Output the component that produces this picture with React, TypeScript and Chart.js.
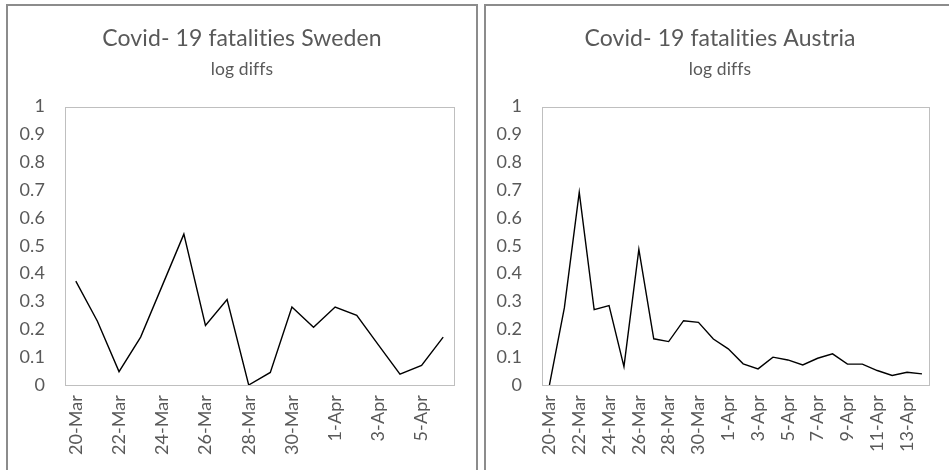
import React, { useEffect, useRef } from "react";
import { Chart, registerables } from "chart.js";

Chart.register(...registerables);

const swedenDates = [
  "20-Mar", "21-Mar", "22-Mar", "23-Mar", "24-Mar", "25-Mar", "26-Mar", "27-Mar", "28-Mar",
  "29-Mar", "30-Mar", "31-Mar", "1-Apr", "2-Apr", "3-Apr", "4-Apr", "5-Apr", "6-Apr",
];
const swedenLogDiffs = [
  0.373, 0.229, 0.048, 0.172, 0.357, 0.542, 0.214, 0.307, 0, 0.045, 0.28, 0.207, 0.28, 0.25,
  0.144, 0.039, 0.07, 0.172,
];

const austriaDates = [
  "20-Mar", "21-Mar", "22-Mar", "23-Mar", "24-Mar", "25-Mar", "26-Mar", "27-Mar", "28-Mar",
  "29-Mar", "30-Mar", "31-Mar", "1-Apr", "2-Apr", "3-Apr", "4-Apr", "5-Apr", "6-Apr", "7-Apr",
  "8-Apr", "9-Apr", "10-Apr", "11-Apr", "12-Apr", "13-Apr", "14-Apr",
];
const austriaLogDiffs = [
  0, 0.277, 0.692, 0.271, 0.285, 0.066, 0.487, 0.166, 0.156, 0.231, 0.225, 0.165, 0.13, 0.076,
  0.058, 0.1, 0.09, 0.072, 0.096, 0.112, 0.075, 0.075, 0.052, 0.034, 0.046, 0.04,
];

const yTickValues = [0, 0.1, 0.2, 0.3, 0.4, 0.5, 0.6, 0.7, 0.8, 0.9, 1];
const subtitleText = "log diffs";

const FONT = "Lato, Carlito, Calibri, 'Open Sans', sans-serif";
const TEXT_COLOR = "#595959";
const CANVAS_W = 468;
const CANVAS_H = 464;

const noLigatures = {
  id: "noLigatures",
  beforeUpdate(chart: any) {
    chart.ctx.letterSpacing = "0.1px";
  },
  beforeDraw(chart: any) {
    chart.ctx.letterSpacing = "0.1px";
  },
};

const plotBorder = {
  id: "plotBorder",
  beforeDatasetsDraw(chart: any) {
    const { ctx, chartArea } = chart;
    ctx.save();
    ctx.strokeStyle = "#bfbfbf";
    ctx.lineWidth = 1;
    ctx.strokeRect(
      Math.round(chartArea.left) + 0.5,
      Math.round(chartArea.top) + 0.5,
      Math.round(chartArea.right - chartArea.left),
      Math.round(chartArea.bottom - chartArea.top)
    );
    ctx.restore();
  },
};

function LineChart(props: {
  labels: string[];
  values: number[];
  title: string;
  yWidth: number;
  rightPad: number;
}) {
  const ref = useRef<HTMLCanvasElement | null>(null);
  useEffect(() => {
    if (!ref.current) return;
    const { labels, values, title, yWidth, rightPad } = props;
    const chart = new Chart(ref.current, {
      type: "line",
      data: {
        labels,
        datasets: [
          {
            data: values,
            borderColor: "#000000",
            borderWidth: 1.4,
            pointRadius: 0,
            tension: 0,
            fill: false,
          },
        ],
      },
      options: {
        animation: false,
        responsive: false,
        devicePixelRatio: 1,
        layout: { padding: 0 },
        plugins: {
          legend: { display: false },
          tooltip: { enabled: false },
          title: {
            display: true,
            text: title,
            color: TEXT_COLOR,
            font: { family: FONT, size: 23, weight: "normal", lineHeight: 1.2 },
            padding: { top: 19, bottom: 6 },
          },
          subtitle: {
            display: true,
            text: subtitleText,
            color: TEXT_COLOR,
            font: { family: FONT, size: 17.5, weight: "normal", lineHeight: 1.2 },
            padding: { top: 0, bottom: 27 },
          },
        },
        scales: {
          x: {
            type: "category",
            offset: true,
            grid: { display: false, drawTicks: false },
            border: { display: false },
            ticks: {
              autoSkip: false,
              maxRotation: 90,
              minRotation: 90,
              padding: 10,
              color: TEXT_COLOR,
              font: { family: FONT, size: 18 },
              callback: (_v: any, i: number) => (i % 2 === 0 ? labels[i] : ""),
            },
            afterFit: (scale: any) => {
              scale.height = 85;
            },
          },
          y: {
            min: 0,
            max: 1,
            grid: { display: false, drawTicks: false },
            border: { display: false },
            afterBuildTicks: (scale: any) => {
              scale.ticks = yTickValues.map((v) => ({ value: v }));
            },
            ticks: {
              padding: 20,
              color: TEXT_COLOR,
              font: { family: FONT, size: 18 },
              callback: (v: any) => String(Number(Number(v).toFixed(1))),
            },
            afterFit: (scale: any) => {
              scale.width = yWidth;
            },
          },
          yRightGap: {
            type: "linear",
            position: "right",
            display: true,
            min: 0,
            max: 1,
            grid: { display: false, drawTicks: false },
            border: { display: false },
            ticks: { display: false },
            afterFit: (scale: any) => {
              scale.width = rightPad;
            },
          },
        },
      },
      plugins: [noLigatures, plotBorder],
    } as any);
    return () => chart.destroy();
  }, []);
  return (
    <canvas
      ref={ref}
      width={CANVAS_W}
      height={CANVAS_H}
      style={{ display: "block", width: CANVAS_W, height: CANVAS_H }}
    />
  );
}

const boxStyle = (left: number): React.CSSProperties => ({
  position: "absolute",
  left,
  top: 4,
  width: 472,
  height: 480,
  boxSizing: "border-box",
  border: "2px solid #8c8c8c",
  background: "#ffffff",
});

export default function App() {
  useEffect(() => {
    document.documentElement.style.overflow = "hidden";
    document.body.style.overflow = "hidden";
  }, []);
  return (
    <div
      style={{
        position: "absolute",
        left: 0,
        top: 0,
        width: 949,
        height: 470,
        overflow: "hidden",
        background: "#ffffff",
      }}
    >
      <div style={boxStyle(6)}>
        <LineChart
          labels={swedenDates}
          values={swedenLogDiffs}
          title="Covid- 19 fatalities Sweden"
          yWidth={57}
          rightPad={22}
        />
      </div>
      <div style={boxStyle(484)}>
        <LineChart
          labels={austriaDates}
          values={austriaLogDiffs}
          title="Covid- 19 fatalities Austria"
          yWidth={56}
          rightPad={23}
        />
      </div>
    </div>
  );
}
